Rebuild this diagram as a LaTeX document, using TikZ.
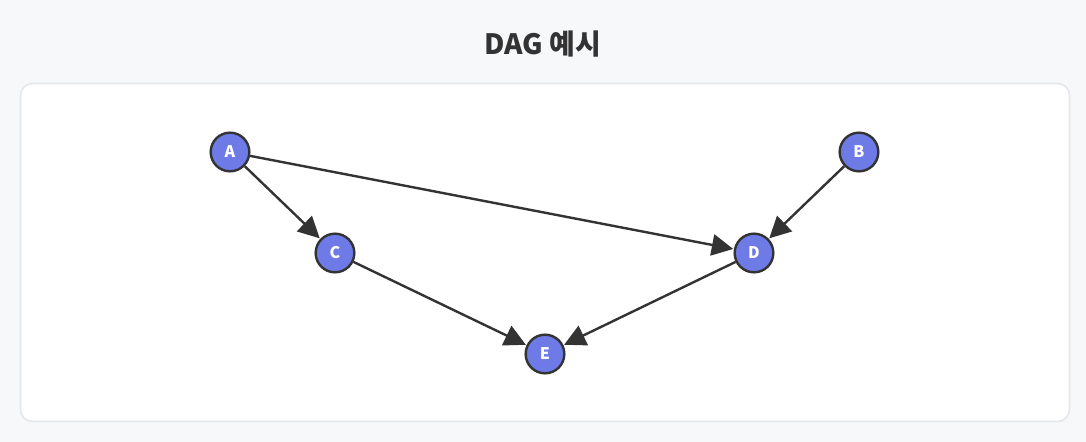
\documentclass[tikz,border=0pt]{standalone}
\usepackage{fontspec}
\setmainfont{Noto Sans CJK KR}
\usetikzlibrary{arrows.meta}

\definecolor{pagebg}{HTML}{F7F8FA}
\definecolor{cardline}{HTML}{E5E7EB}
\definecolor{nodefill}{HTML}{6E7BE6}
\definecolor{inkdark}{HTML}{333333}

\tikzstyle{vertexdecorate}=[shape=circle,draw=inkdark,fill=nodefill,line width=1.8pt,minimum size=29pt,inner sep=0pt,text=white,font=\bfseries\fontsize{12}{12}\selectfont]
\tikzstyle{arrowdecorate}=[-{Triangle[length=16pt,width=16pt]},draw=inkdark,line width=1.8pt,shorten >=0.5pt]

\begin{document}
\begin{tikzpicture}[x=0.75pt,y=-0.75pt]
      %% background and card
      \fill[pagebg] (0,0) rectangle (1086,442);
      \useasboundingbox (0,0) rectangle (1086,442);
      \draw[cardline,fill=white,line width=1.2pt,rounded corners=9pt] (20.5,83.5) rectangle (1069.5,421.5);
      \node (title) at (543,44) [font=\bfseries\fontsize{21}{21}\selectfont,text=inkdark] {DAG 예시};
      %% nodes or vertices
      \foreach \nodename/\x/\y in {A/230/152, B/859/152, C/335/253, D/754/253, E/545/354}
      {
        \node (\nodename) at (\x,\y) [vertexdecorate] {\nodename};
      }
      %% edges or lines
      \path
      \foreach \startnode/\endnode in {A/C, A/D, B/D, C/E, D/E}
      {
        (\startnode) edge[arrowdecorate] (\endnode)
      };
\end{tikzpicture}
\end{document}
